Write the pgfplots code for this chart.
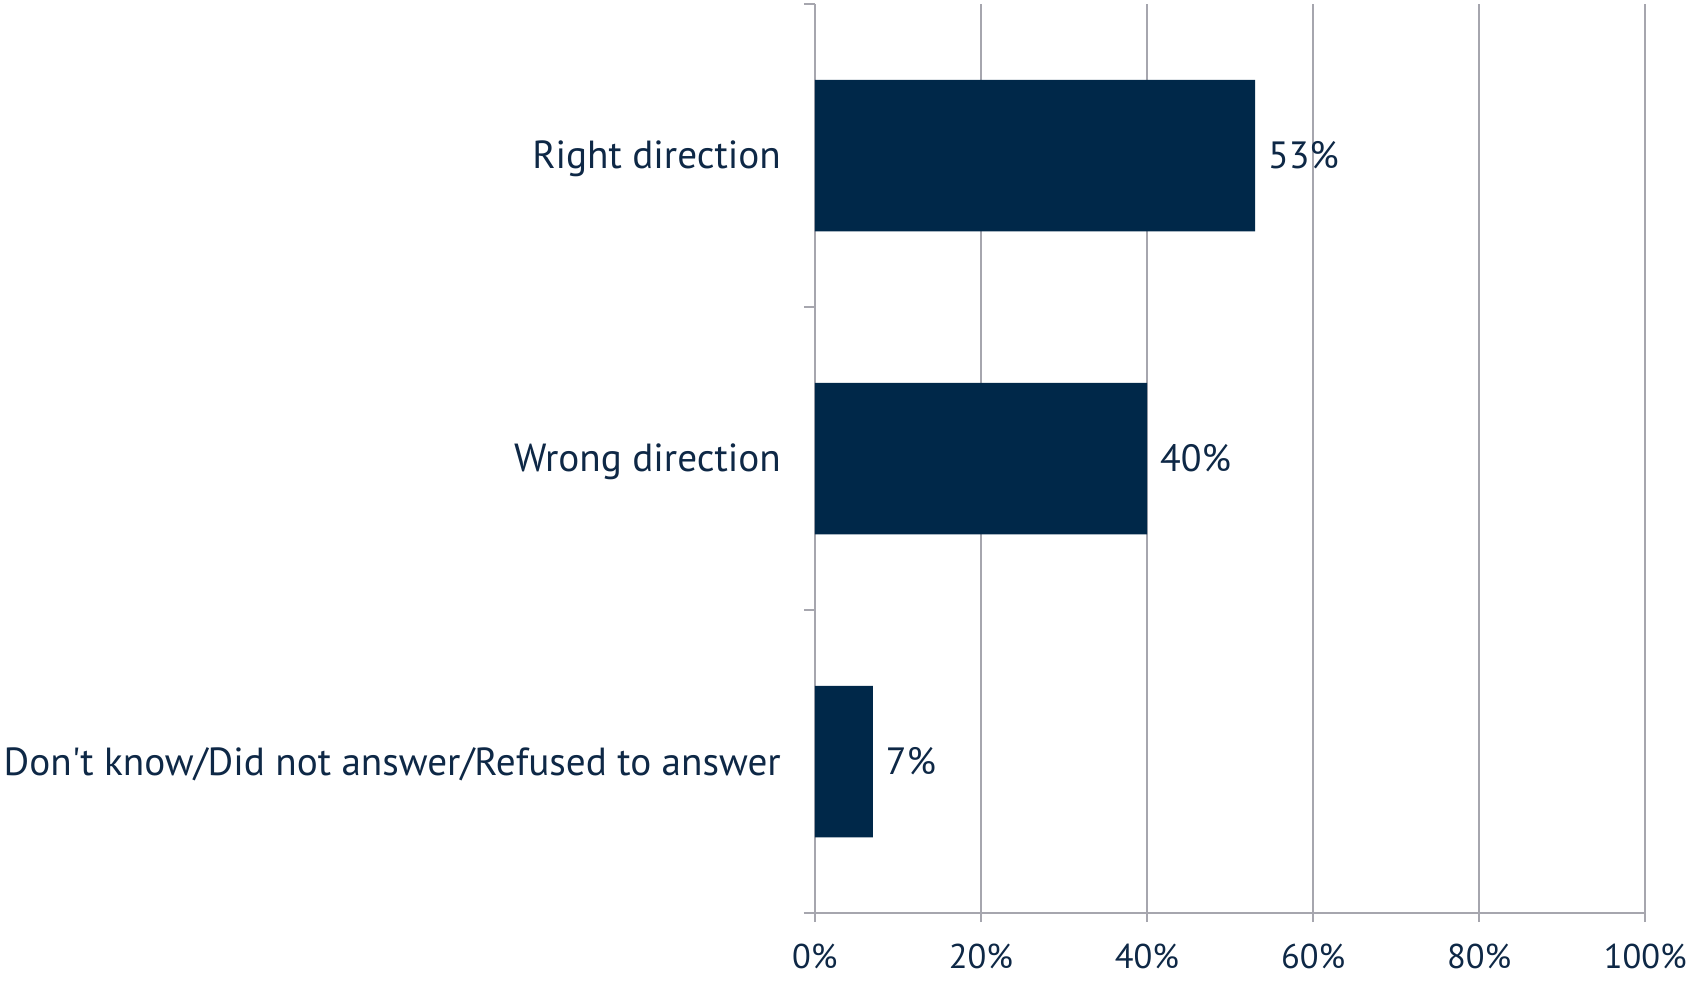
\documentclass[border=0pt]{standalone}
\usepackage{pgfplots}
\pgfplotsset{compat=1.18}
\usepackage{fontspec}
\setmainfont{PT Sans}[Ligatures=TeXOff]
\definecolor{navy}{RGB}{0,40,73}
\definecolor{txt}{RGB}{14,40,70}
\definecolor{gridgray}{RGB}{166,166,174}
\begin{document}
\begin{tikzpicture}
\useasboundingbox (-407.4pt,-33.5pt) rectangle (435.6pt,456.5pt);
\begin{axis}[
 at={(0pt,0pt)}, anchor=south west,
 scale only axis, width=415.3pt, height=454.5pt,
 xbar, bar width=0.5,
 xmin=0, xmax=100, ymin=-0.5, ymax=2.5, y dir=reverse,
 xtick={0,20,...,100}, xticklabel={\pgfmathprintnumber{\tick}\%},
 ytick={0,1,2},
 yticklabels={Right direction, Wrong direction, Don't know/Did not answer/Refused to answer},
 minor ytick={-0.5,0.5,1.5,2.5},
 axis lines=left, axis line style={-, draw=gridgray, line width=1pt},
 x axis line style={shorten <=-5.4pt},
 xmajorgrids, grid style={draw=gridgray, line width=1pt},
 tick align=outside, major tick length=4.5pt, minor tick length=5.4pt,
 every tick/.style={draw=gridgray, line width=1pt},
 major y tick style={draw=none},
 tick label style={text=txt},
 yticklabel style={font=\fontsize{19.6}{22}\selectfont, xshift=-9pt, yshift=-1.5pt},
 xticklabel style={font=\fontsize{17.2}{20}\selectfont, yshift=-7.5pt},
 /pgf/number format/assume math mode=true,
 nodes near coords={\pgfmathprintnumber{\pgfplotspointmeta}\%},
 every node near coord/.append style={font=\fontsize{19}{22}\selectfont, text=txt, xshift=3pt},
 clip=false,
]
\addplot[fill=navy, draw=none] coordinates {(53,0) (40,1) (7,2)};
\end{axis}
\end{tikzpicture}
\end{document}
